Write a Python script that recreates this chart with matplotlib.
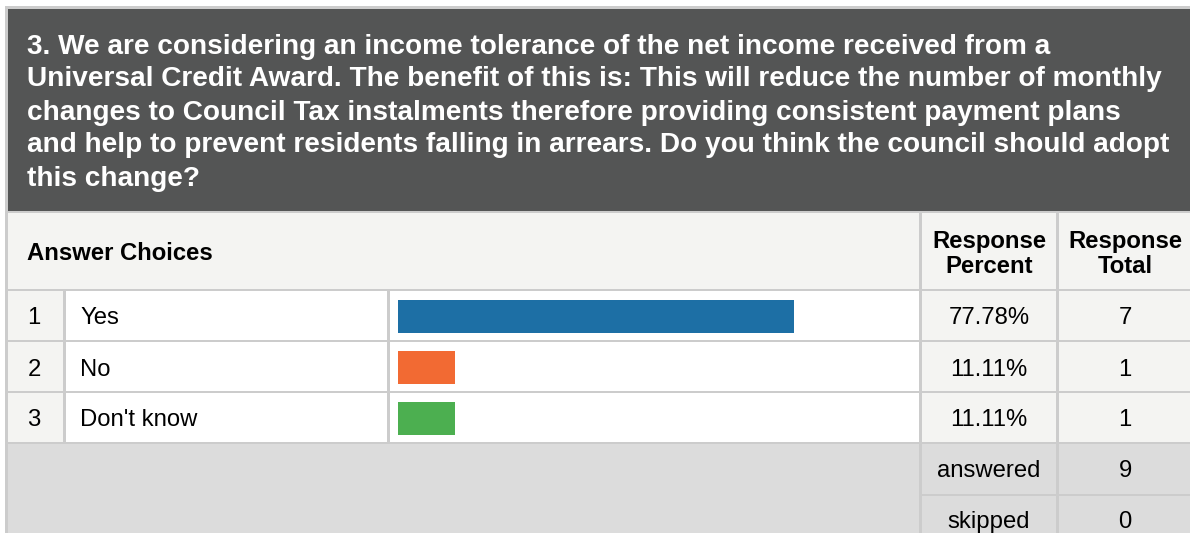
import matplotlib
matplotlib.use("Agg")
import matplotlib.pyplot as plt
from matplotlib.patches import Rectangle

# ---- data ----
title_lines = [
    "3. We are considering an income tolerance of the net income received from a",
    "Universal Credit Award. The benefit of this is: This will reduce the number of monthly",
    "changes to Council Tax instalments therefore providing consistent payment plans",
    "and help to prevent residents falling in arrears. Do you think the council should adopt",
    "this change?",
]
row_numbers = ["1", "2", "3"]
answers = ["Yes", "No", "Don't know"]
percents = [77.78, 11.11, 11.11]
totals = [7, 1, 1]
answered = 9
skipped = 0
bar_colors = ["#1d6fa5", "#f26a33", "#4caf50"]

W, H = 1190, 533
FONT = "Liberation Sans"
FS = 17.2
TFS = 20.2
TXT = "#000000"
fig = plt.figure(figsize=(W / 100, H / 100), dpi=100)
fig.patch.set_facecolor("white")

bg = fig.add_axes([0, 0, 1, 1])
bg.set_xlim(0, W)
bg.set_ylim(H, 0)
bg.axis("off")

LINE = "#cccccc"
LIGHT = "#f4f4f2"
GREY = "#dcdcdc"
DARK = "#545555"

def rect(x0, y0, x1, y1, color, z=1):
    bg.add_patch(Rectangle((x0, y0), x1 - x0, y1 - y0, facecolor=color,
                           edgecolor="none", zorder=z))

# outer frame lines
rect(5, 6, W, 9, LINE)
rect(5, 6, 8, H, LINE)
# title block
rect(8, 9, W, 211, DARK)
rect(8, 211, W, 213, LINE)
# header row
rect(8, 213, W, 289, LIGHT)

# body rows
row_top = [291, 342, 393]
row_h = 50
for i, yt in enumerate(row_top):
    rect(8, yt, 63, yt + row_h, LIGHT)
    rect(65, yt, 387, yt + row_h, "white")
    rect(390, yt, 919, yt + row_h, "white")
    rect(922, yt, 1056, yt + row_h, LIGHT)
    rect(1059, yt, W, yt + row_h, LIGHT)
# horizontal separators
for y in [289, 340, 391, 442]:
    rect(8, y, W, y + 2, LINE, z=2)
# vertical separators in body
for x in [63, 387, 919, 1056]:
    rect(x, 289, x + 2.5, 444, LINE, z=2)
# header verticals
for x in [919, 1056]:
    rect(x, 213, x + 2.5, 289, LINE, z=2)

# footer area
rect(8, 444, 919, H, GREY)
rect(922, 444, 1056, H, GREY)
rect(1059, 444, W, H, GREY)
rect(919, 444, 922, H, LINE, z=2)
rect(1056, 444, 1059, H, LINE, z=2)
rect(920, 494, W, 496, LINE, z=2)

# title text
title_y0, title_dy = 46.5, 33
for k, line in enumerate(title_lines):
    bg.text(27, title_y0 + k * title_dy, line, color="white", fontsize=TFS,
            fontweight="bold", family=FONT, va="center", ha="left", zorder=5)

# header text
bg.text(27, 253.5, "Answer Choices", fontsize=FS, fontweight="bold",
        family=FONT, va="center", ha="left", zorder=5, color=TXT)
bg.text(989, 254, "Response\nPercent", fontsize=FS, fontweight="bold",
        family=FONT, va="center", ha="center", zorder=5, linespacing=1.1,
        color=TXT)
bg.text(1125, 254, "Response\nTotal", fontsize=FS, fontweight="bold",
        family=FONT, va="center", ha="center", zorder=5, linespacing=1.1,
        color=TXT)

# row text
for i in range(len(answers)):
    yc = row_top[i] + row_h / 2 + 2.5
    bg.text(34, yc, row_numbers[i], fontsize=FS, family=FONT, va="center",
            ha="center", zorder=5, color=TXT)
    bg.text(80, yc, answers[i], fontsize=FS, family=FONT, va="center",
            ha="left", zorder=5, color=TXT)
    bg.text(989, yc, f"{percents[i]:.2f}%", fontsize=FS, family=FONT,
            va="center", ha="center", zorder=5, color=TXT)
    bg.text(1125, yc, str(totals[i]), fontsize=FS, family=FONT,
            va="center", ha="center", zorder=5, color=TXT)

bg.text(989, 471, "answered", fontsize=FS, family=FONT, va="center",
        ha="center", zorder=5, color=TXT)
bg.text(1125, 471, str(answered), fontsize=FS, family=FONT, va="center",
        ha="center", zorder=5, color=TXT)
bg.text(989, 522, "skipped", fontsize=FS, family=FONT, va="center",
        ha="center", zorder=5, color=TXT)
bg.text(1125, 522, str(skipped), fontsize=FS, family=FONT, va="center",
        ha="center", zorder=5, color=TXT)

# bar axes: x from 398 px, 100% = 509 px ; rows spanning y 291..444
bx0, bx1 = 398, 907
by0, by1 = 291, 444
bar_ax = fig.add_axes([bx0 / W, 1 - by1 / H, (bx1 - bx0) / W, (by1 - by0) / H])
bar_ax.set_xlim(0, 100)
bar_ax.set_ylim(len(answers) - 0.5, -0.5)
bar_ax.barh(range(len(answers)), percents, height=0.63, color=bar_colors,
            left=0)
bar_ax.axis("off")
bar_ax.patch.set_alpha(0)

fig.savefig("out.png", dpi=100)
